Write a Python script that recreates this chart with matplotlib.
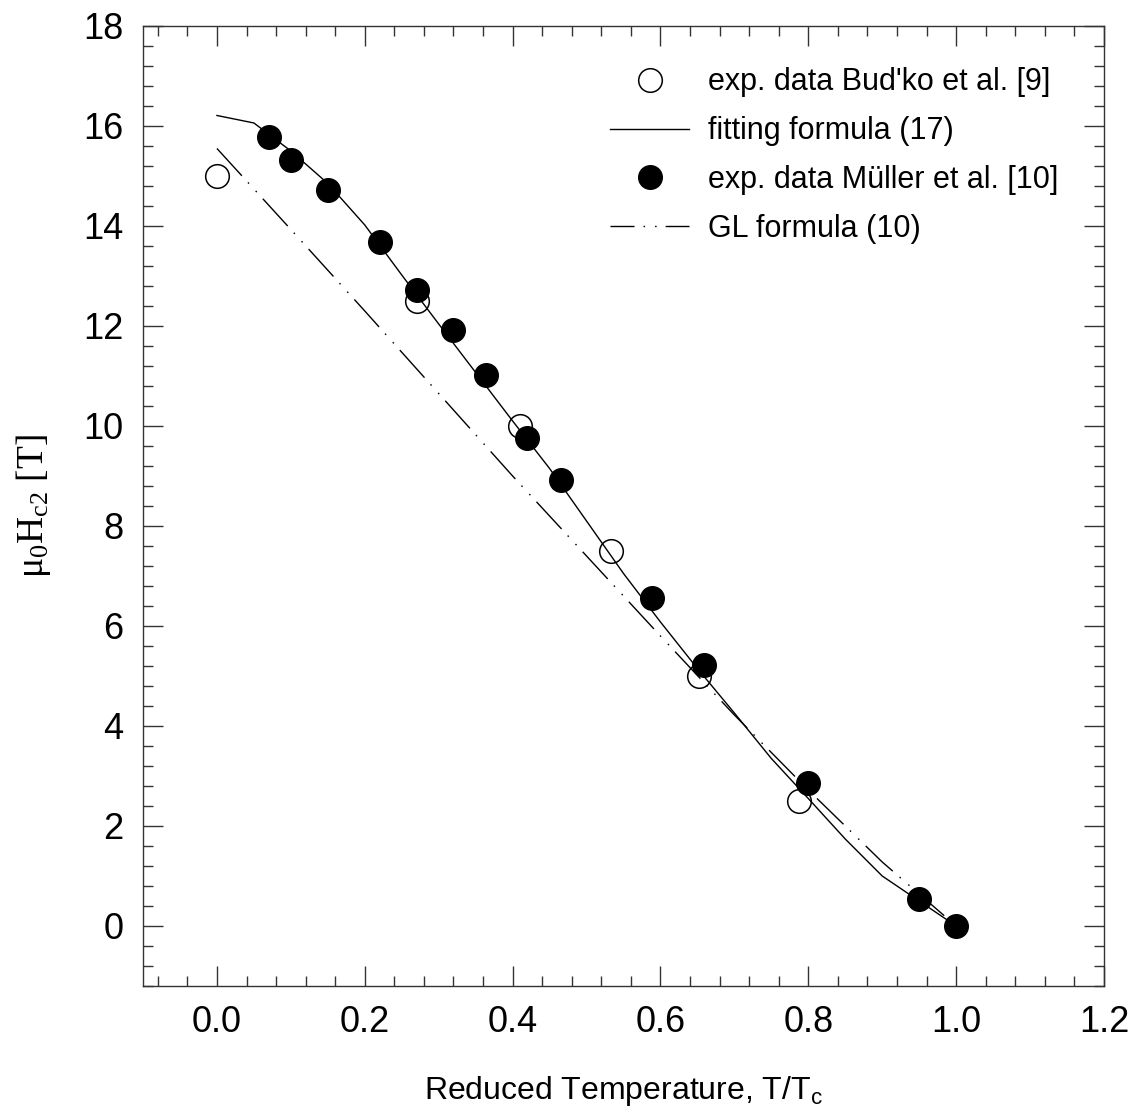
import numpy as np
import matplotlib
matplotlib.use("Agg")
import matplotlib.pyplot as plt
from matplotlib.ticker import MultipleLocator

plt.rcParams['font.family'] = ['Liberation Sans', 'DejaVu Sans']
plt.rcParams['lines.scale_dashes'] = False

# exp. data Bud'ko et al. [9]
budko_t = [0.0, 0.27, 0.41, 0.533, 0.652, 0.788]
budko_h = [15.0, 12.5, 10.0, 7.5, 5.0, 2.5]

# exp. data Mueller et al. [10]
muller_t = [0.07, 0.10, 0.15, 0.22, 0.27, 0.32, 0.364, 0.42, 0.466, 0.589, 0.659, 0.80, 0.95, 1.0]
muller_h = [15.77, 15.32, 14.72, 13.68, 12.72, 11.91, 11.02, 9.76, 8.92, 6.55, 5.21, 2.86, 0.53, 0.0]

# fitting formula (17)
fit_t = [0.0, 0.05, 0.10, 0.15, 0.20, 0.25, 0.30, 0.35, 0.40, 0.45, 0.50,
         0.55, 0.60, 0.65, 0.70, 0.75, 0.80, 0.85, 0.90, 0.95, 1.0]
fit_h = [16.21, 16.06, 15.50, 14.85, 14.02, 13.02, 12.04, 11.07, 10.10, 9.15, 8.10,
         7.05, 6.08, 5.15, 4.26, 3.35, 2.55, 1.74, 1.00, 0.50, 0.0]

# GL formula (10)
gl_t = [0.0, 0.1, 0.2, 0.3, 0.4, 0.5, 0.6, 0.7, 0.8, 0.9, 1.0]
gl_h = [15.55, 13.93, 12.30, 10.65, 9.00, 7.40, 5.80, 4.22, 2.72, 1.28, 0.0]

fig = plt.figure(figsize=(11.36, 11.15), dpi=100)
ax = fig.add_axes([0.1259, 0.1157, 0.8459, 0.861])

gl_dash = (0, (26.6, 6.5, 1.1, 7.2, 1.1, 6.5))

ax.plot(gl_t, gl_h, color='black', lw=1.0, linestyle=gl_dash, zorder=2)
ax.plot(fit_t, fit_h, color='black', lw=1.0, zorder=2)
ax.plot(budko_t, budko_h, 'o', ms=17, mfc='none', mec='black', mew=1.1, zorder=3)
ax.plot(muller_t, muller_h, 'o', ms=17, mfc='black', mec='black', zorder=4)

# legend handles in the original order
h1, = ax.plot([], [], 'o', ms=17, mfc='none', mec='black', mew=1.1)
h2, = ax.plot([], [], color='black', lw=1.0)
h3, = ax.plot([], [], 'o', ms=17, mfc='black', mec='black')
h4, = ax.plot([], [], color='black', lw=1.0, linestyle=(9.3, gl_dash[1]))
ax.legend([h1, h2, h3, h4],
          ["exp. data Bud'ko et al. [9]", "fitting formula (17)",
           "exp. data Müller et al. [10]", "GL formula (10)"],
          loc='upper left', bbox_to_anchor=(0.486, 0.957), frameon=False,
          fontsize=22, numpoints=1, handlelength=2.6, handletextpad=0.62,
          labelspacing=0.62, borderpad=0, borderaxespad=0)

ax.set_xlim(-0.1, 1.2)
ax.set_ylim(-1.2, 18)
ax.xaxis.set_major_locator(MultipleLocator(0.2))
ax.xaxis.set_minor_locator(MultipleLocator(0.04))
ax.yaxis.set_major_locator(MultipleLocator(2))
ax.yaxis.set_minor_locator(MultipleLocator(0.4))
ax.set_xticks(np.arange(0, 1.21, 0.2))
ax.set_xticklabels(['0.0', '0.2', '0.4', '0.6', '0.8', '1.0', '1.2'])
ax.set_yticks(np.arange(0, 18.1, 2))

ax.tick_params(which='both', direction='in', top=True, right=True, width=1.0, color='#333333')
ax.tick_params(which='major', length=14.4, labelsize=26, pad=14)
ax.tick_params(which='minor', length=7.2)
for s in ax.spines.values():
    s.set_linewidth(1.0)
    s.set_color('#333333')

ax.set_xlabel('Reduced Temperature, T/T$_\\mathregular{c}$', fontsize=23, labelpad=24)
ax.set_ylabel('$\\mathregular{\\mu_0H_{c2}}$ [T]', fontsize=27, family='Liberation Serif', labelpad=22)

fig.savefig('out.png', dpi=100)
